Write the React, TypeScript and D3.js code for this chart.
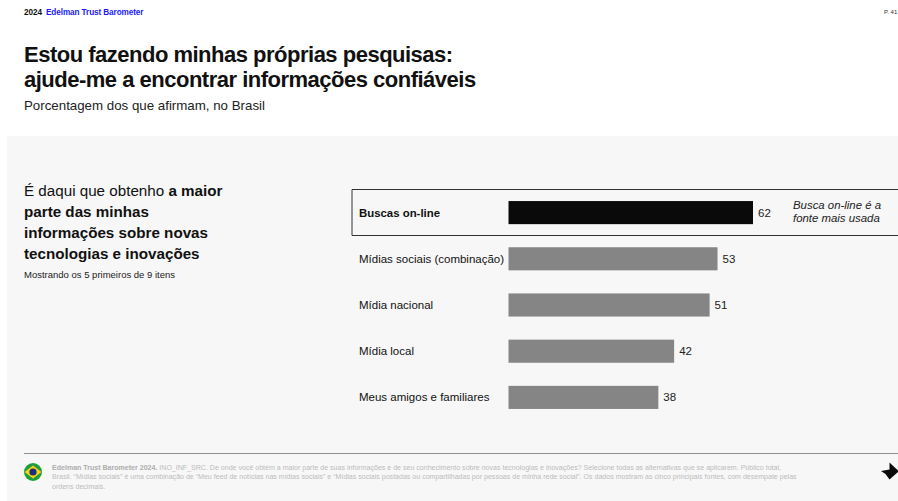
import React from "react";
import * as d3 from "d3";

const categories = [
  "Buscas on-line",
  "Mídias sociais (combinação)",
  "Mídia nacional",
  "Mídia local",
  "Meus amigos e familiares",
];
const values = [62, 53, 51, 42, 38];
const titleLines = [
  "Estou fazendo minhas próprias pesquisas:",
  "ajude-me a encontrar informações confiáveis",
];
const subtitle = "Porcentagem dos que afirmam, no Brasil";
const calloutLines = ["Busca on-line é a", "fonte mais usada"];
const footnoteLines = [
  "INO_INF_SRC. De onde você obtém a maior parte de suas informações e de seu conhecimento sobre novas tecnologias e inovações? Selecione todas as alternativas que se aplicarem. Público total,",
  "Brasil. “Mídias sociais” é uma combinação de “Meu feed de notícias nas mídias sociais” e “Mídias sociais postadas ou compartilhadas por pessoas de minha rede social”. Os dados mostram as cinco principais fontes, com desempate pelas",
  "ordens decimais.",
];

const FONT = "'Liberation Sans', Arial, sans-serif";

export default function App() {
  const x = d3.scaleLinear().domain([0, 62]).range([508.5, 753]);
  const y = d3.scaleBand<string>().domain(categories).range([189.5, 420.5]).paddingInner(0.5).paddingOuter(0.25);
  const cy = (c: string) => (y(c) as number) + y.bandwidth() / 2;
  const flagPath = d3.line()([[33, 465.5], [41.5, 472], [33, 478.5], [24.5, 472]]) + "Z";

  return (
    <svg
      width={898}
      height={501}
      viewBox="0 0 898 501"
      style={{ position: "fixed", left: 0, top: 0, display: "block", background: "#fff" }}
      fontFamily={FONT}
    >
      <rect x={7} y={136} width={891} height={365} fill="#f7f7f7" />

      <text x={24} y={14.5} fontSize={8.2} fontWeight={700} fill="#111" letterSpacing={-0.03}>
        2024
      </text>
      <text x={46} y={14.5} fontSize={8.2} fontWeight={700} fill="#1a1aff" letterSpacing={-0.1}>
        Edelman Trust Barometer
      </text>
      <text x={884} y={14} fontSize={6} fill="#333">P. 41</text>

      {titleLines.map((t, i) => (
        <text key={t} x={24} y={62 + i * 25} fontSize={22} fontWeight={700} fill="#111" letterSpacing={-0.5}>
          {t}
        </text>
      ))}
      <text x={24} y={110} fontSize={13.3} fill="#222">{subtitle}</text>

      <text fontSize={15.2} fill="#111">
        <tspan x={24} y={196}>É daqui que obtenho <tspan fontWeight={700}>a maior</tspan></tspan>
        <tspan x={24} y={217} fontWeight={700}>parte das minhas</tspan>
        <tspan x={24} y={238} fontWeight={700}>informações sobre novas</tspan>
        <tspan x={24} y={259} fontWeight={700}>tecnologias e inovações</tspan>
      </text>
      <text x={24} y={278} fontSize={9.5} fill="#222">Mostrando os 5 primeiros de 9 itens</text>

      <path d="M898 189.5H352V235.5H898" fill="none" stroke="#333" strokeWidth={1} />

      {categories.map((c, i) => (
        <g key={c}>
          <text
            x={359}
            y={cy(c)}
            dy="0.35em"
            fontSize={i === 0 ? 11.4 : 11.5}
            fontWeight={i === 0 ? 700 : 400}
            fill="#111"
          >
            {c}
          </text>
          <rect
            x={x(0)}
            y={y(c)}
            width={x(values[i]) - x(0)}
            height={y.bandwidth()}
            fill={i === 0 ? "#0a0a0a" : "#858585"}
          />
          <text x={x(values[i]) + 5} y={cy(c)} dy="0.35em" fontSize={11.5} fill="#222">
            {values[i]}
          </text>
        </g>
      ))}

      <text fontSize={11.4} fontStyle="italic" fill="#222">
        {calloutLines.map((t, i) => (
          <tspan key={t} x={793} y={209 + i * 13}>{t}</tspan>
        ))}
      </text>

      <line x1={24} x2={898} y1={453.5} y2={453.5} stroke="#8f8f8f" strokeWidth={1} />

      <circle cx={33} cy={472} r={9} fill="#1f9e3a" />
      <path d={flagPath} fill="#f4d21f" />
      <circle cx={33} cy={472} r={3.6} fill="#1c2f7a" />

      <text fontSize={7.05} fill="#bcbcbc">
        <tspan x={52} y={469.5}>
          <tspan fontWeight={700} fill="#adadad">Edelman Trust Barometer 2024. </tspan>
          {footnoteLines[0]}
        </tspan>
        <tspan x={52} y={479}>{footnoteLines[1]}</tspan>
        <tspan x={52} y={489}>{footnoteLines[2]}</tspan>
      </text>

      <path d="M881 471L889.5 469.5V462.5L898 470.5V472L889.5 479.5L885.5 474Z" fill="#0a0a0a" />
    </svg>
  );
}
